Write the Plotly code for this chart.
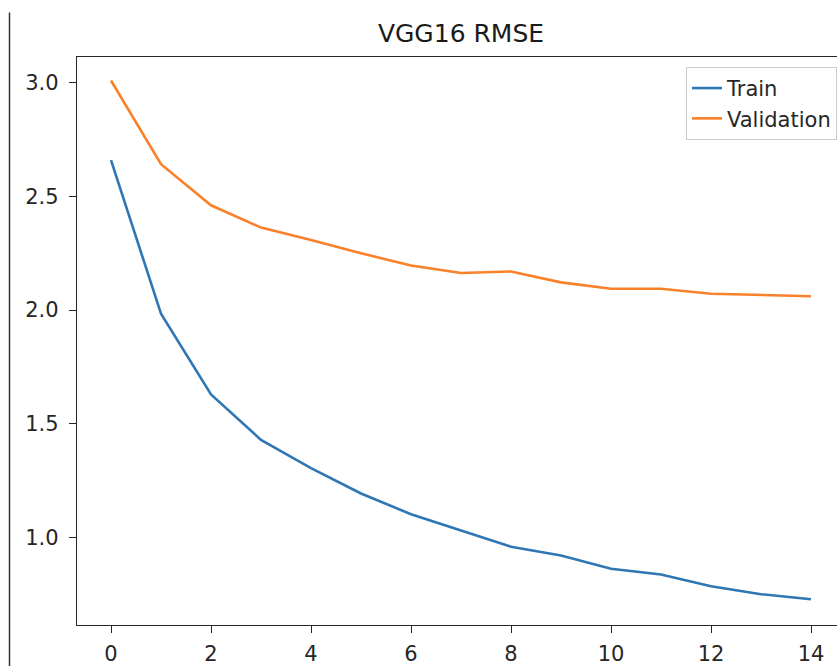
import plotly.graph_objects as go

epochs = list(range(15))
train_rmse = [2.66, 1.984, 1.629, 1.429, 1.305, 1.193, 1.102, 1.029, 0.959, 0.920,
              0.862, 0.837, 0.785, 0.750, 0.728]
val_rmse = [3.01, 2.642, 2.461, 2.363, 2.308, 2.25, 2.196, 2.163, 2.170, 2.122,
            2.094, 2.094, 2.072, 2.068, 2.061]
x_ticks = [0, 2, 4, 6, 8, 10, 12, 14]
y_ticks = [1.0, 1.5, 2.0, 2.5, 3.0]
y_tick_labels = ["1.0", "1.5", "2.0", "2.5", "3.0"]

FONT = "DejaVu Sans"
W, H = 837, 666
L, T, B = 77, 57, 36
PW, PH = W - L, H - T - B

fig = go.Figure()
fig.add_trace(go.Scatter(x=epochs, y=train_rmse, mode="lines", name="Train",
                         line=dict(color="#2f77b4", width=2.6)))
fig.add_trace(go.Scatter(x=epochs, y=val_rmse, mode="lines", name="Validation",
                         line=dict(color="#f8812a", width=2.6)))

fig.update_layout(
    width=W, height=H,
    margin=dict(l=L, r=0, t=T, b=B, pad=0),
    paper_bgcolor="white", plot_bgcolor="white",
    font=dict(family=FONT, size=21, color="#262626"),
    title=dict(text="VGG16 RMSE", x=461 / W, xanchor="center",
               y=1 - 33 / H, yanchor="middle",
               font=dict(family=FONT, size=25, color="#1a1a1a")),
    showlegend=True,
    legend=dict(x=1, xanchor="right", y=1 - 10 / PH, yanchor="top",
                bgcolor="rgba(255,255,255,0.8)", bordercolor="#cccccc", borderwidth=1,
                font=dict(family=FONT, size=21, color="#262626")),
    xaxis=dict(range=[-0.68, 14.52], tickvals=x_ticks, showgrid=False, zeroline=False,
               showline=True, linecolor="#262626", linewidth=1.3, mirror=True,
               ticks="outside", ticklen=7, tickwidth=1.3, tickcolor="#262626",
               ticklabelstandoff=3),
    yaxis=dict(range=[0.6145, 3.1134], tickvals=y_ticks, ticktext=y_tick_labels,
               showgrid=False, zeroline=False,
               showline=True, linecolor="#262626", linewidth=1.3, mirror=False,
               ticks="outside", ticklen=7, tickwidth=1.3, tickcolor="#262626",
               ticklabelstandoff=6),
    shapes=[dict(type="line", xref="paper", yref="paper",
                 x0=(9.5 - 77) / PW, x1=(9.5 - 77) / PW,
                 y0=1 + 45 / PH, y1=-(B + 10) / PH,
                 line=dict(color="#333333", width=1.5))],
)

post = ("document.documentElement.style.margin='0';"
        "document.documentElement.style.overflow='hidden';"
        "document.body.style.margin='0';"
        "document.body.style.overflow='hidden';")

fig.write_html("out.html", post_script=post, config={"displayModeBar": False})
